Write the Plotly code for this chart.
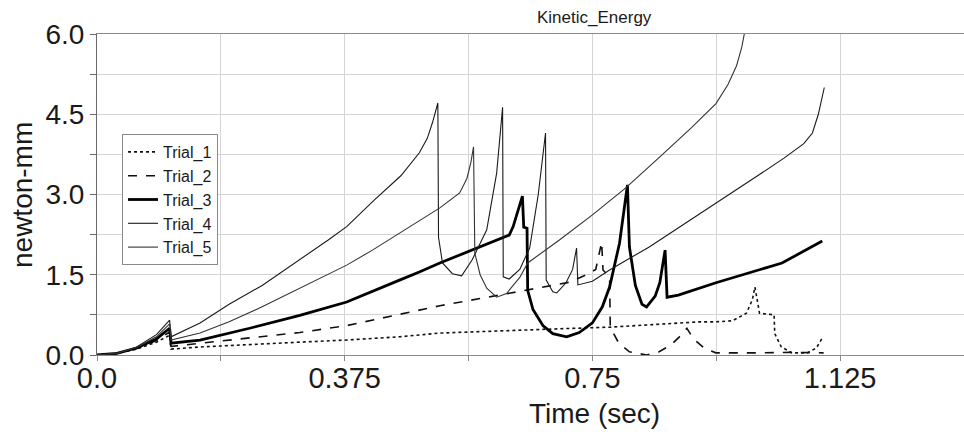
import plotly.graph_objects as go

# ---------------- data ----------------
t1 = [0, 0.03, 0.06, 0.09, 0.110, 0.112, 0.156, 0.231, 0.307, 0.378, 0.458, 0.519, 0.60, 0.70,
      0.776, 0.836, 0.912, 0.937, 0.962, 0.983, 0.992, 0.996, 1.003, 1.025, 1.026, 1.036,
      1.052, 1.075, 1.089, 1.098]
v1 = [0, 0.03, 0.11, 0.24, 0.37, 0.11, 0.15, 0.20, 0.24, 0.28, 0.34, 0.41, 0.45, 0.49,
      0.52, 0.56, 0.62, 0.62, 0.64, 0.78, 1.03, 1.27, 0.78, 0.75, 0.40, 0.15,
      0.04, 0.04, 0.13, 0.32]

t2 = [0, 0.03, 0.06, 0.09, 0.110, 0.112, 0.156, 0.231, 0.307, 0.378, 0.458, 0.519, 0.60, 0.64,
      0.715, 0.741, 0.755, 0.764, 0.766, 0.776, 0.777, 0.79, 0.806, 0.832, 0.851, 0.87,
      0.885, 0.893, 0.903, 0.92, 0.937, 1.0, 1.05, 1.10]
v2 = [0, 0.03, 0.12, 0.27, 0.43, 0.16, 0.22, 0.32, 0.42, 0.55, 0.76, 0.92, 1.10, 1.19,
      1.36, 1.50, 1.60, 2.11, 1.59, 1.46, 0.52, 0.22, 0.06, 0.0, 0.06, 0.20,
      0.38, 0.50, 0.30, 0.12, 0.04, 0.04, 0.05, 0.04]

t3 = [0, 0.03, 0.06, 0.09, 0.110, 0.112, 0.156, 0.231, 0.307, 0.378, 0.458, 0.488, 0.519, 0.624,
      0.630, 0.638, 0.644, 0.646, 0.651, 0.652, 0.66, 0.675, 0.69, 0.711, 0.73, 0.750,
      0.765, 0.776, 0.791, 0.803, 0.806, 0.815, 0.825, 0.832, 0.845, 0.852, 0.860, 0.863,
      0.88, 0.937, 1.037, 1.098]
v3 = [0, 0.03, 0.13, 0.30, 0.50, 0.22, 0.28, 0.50, 0.74, 0.99, 1.40, 1.55, 1.72, 2.24,
      2.40, 2.70, 2.97, 2.39, 2.37, 1.21, 0.85, 0.55, 0.40, 0.34, 0.42, 0.60,
      0.90, 1.27, 2.09, 3.18, 2.02, 1.30, 0.95, 0.90, 1.10, 1.35, 1.96, 1.08,
      1.12, 1.35, 1.72, 2.13]

t4 = [0, 0.03, 0.06, 0.09, 0.110, 0.112, 0.156, 0.20, 0.25, 0.30, 0.35, 0.378, 0.42, 0.46,
      0.488, 0.50, 0.508, 0.516, 0.517, 0.523, 0.538, 0.552, 0.568, 0.590, 0.605, 0.614,
      0.615, 0.624, 0.64, 0.655, 0.668, 0.679, 0.680, 0.69, 0.696, 0.71, 0.72, 0.726,
      0.728, 0.75, 0.776, 0.836, 0.882, 0.937, 1.0, 1.04, 1.07, 1.083, 1.092, 1.101]
v4 = [0, 0.03, 0.15, 0.38, 0.65, 0.34, 0.60, 0.95, 1.30, 1.72, 2.15, 2.40, 2.90, 3.35,
      3.78, 4.05, 4.35, 4.71, 2.20, 1.72, 1.52, 1.48, 1.78, 2.34, 3.40, 4.63,
      1.46, 1.42, 1.60, 2.00, 3.00, 4.15, 1.40, 1.18, 1.16, 1.35, 1.60, 2.00,
      1.31, 1.38, 1.59, 2.02, 2.39, 2.84, 3.35, 3.68, 3.95, 4.15, 4.50, 5.00]

t5 = [0, 0.03, 0.06, 0.09, 0.110, 0.112, 0.156, 0.20, 0.25, 0.30, 0.35, 0.378, 0.417, 0.458,
      0.488, 0.519, 0.549, 0.56, 0.566, 0.570, 0.572, 0.58, 0.59, 0.605, 0.62, 0.64, 0.652,
      0.70, 0.75, 0.80, 0.85, 0.90, 0.937, 0.955, 0.968, 0.976, 0.983]
v5 = [0, 0.03, 0.14, 0.34, 0.58, 0.28, 0.41, 0.62, 0.90, 1.20, 1.50, 1.68, 1.96, 2.28,
      2.52, 2.75, 3.03, 3.30, 3.60, 3.89, 1.90, 1.50, 1.25, 1.08, 1.15, 1.45, 1.72,
      2.15, 2.62, 3.12, 3.68, 4.25, 4.70, 5.05, 5.40, 5.75, 6.20]

names = ["Trial_1", "Trial_2", "Trial_3", "Trial_4", "Trial_5"]

x_tickvals = [0, 0.1875, 0.375, 0.5625, 0.75, 0.9375, 1.125, 1.3125]
x_ticktext = ["0.0", "", "0.375", "", "0.75", "", "1.125", ""]
y_tickvals = [0, 0.75, 1.5, 2.25, 3.0, 3.75, 4.5, 5.25, 6.0]
y_ticktext = ["0.0", "", "1.5", "", "3.0", "", "4.5", "", "6.0"]

# ---------------- figure ----------------
FONT = "Liberation Sans, Arial, sans-serif"
styles = [
    dict(color="#111111", width=1.6, dash="dot"),
    dict(color="#111111", width=1.6, dash="dash"),
    dict(color="#000000", width=2.8, dash="solid"),
    dict(color="#1a1a1a", width=1.1, dash="solid"),
    dict(color="#333333", width=1.1, dash="solid"),
]
series = [(t1, v1), (t2, v2), (t3, v3), (t4, v4), (t5, v5)]

fig = go.Figure()
for (tt, vv), nm, st in zip(series, names, styles):
    fig.add_trace(go.Scatter(x=tt, y=vv, mode="lines", name=nm, line=st))

W, H = 964, 432
L, R, T, B = 97, 0, 34, 77
pw, ph = W - L - R, H - T - B

def px2paper_x(px):
    return (px - L) / pw

def px2paper_y(py):
    return (H - B - py) / ph

fig.update_layout(
    width=W, height=H,
    margin=dict(l=L, r=R, t=T, b=B),
    paper_bgcolor="white", plot_bgcolor="white",
    font=dict(family=FONT, color="#1a1a1a"),
    showlegend=True,
    legend=dict(
        x=px2paper_x(122), y=px2paper_y(134), xanchor="left", yanchor="top",
        bgcolor="white", bordercolor="#8a8a8a", borderwidth=1,
        font=dict(size=16, family=FONT, color="#1a1a1a"),
        itemwidth=30, tracegroupgap=0,
    ),
    xaxis=dict(
        range=[0, 1.3125], tickmode="array", tickvals=x_tickvals, ticktext=x_ticktext,
        showgrid=True, gridcolor="#d4d4d4", gridwidth=1,
        showline=True, linecolor="#8a8a8a", linewidth=1, mirror=True,
        ticks="outside", ticklen=5, tickcolor="#8a8a8a",
        ticklabelstandoff=-8,
        tickfont=dict(size=29, family=FONT, color="#1a1a1a"),
        zeroline=False, fixedrange=True,
    ),
    yaxis=dict(
        range=[0, 6.0], tickmode="array", tickvals=y_tickvals, ticktext=y_ticktext,
        showgrid=True, gridcolor="#d4d4d4", gridwidth=1,
        showline=True, linecolor="#6a6a6a", linewidth=1,
        ticks="outside", ticklen=6, tickcolor="#6a6a6a",
        tickfont=dict(size=28, family=FONT, color="#1a1a1a"),
        zeroline=False, fixedrange=True,
    ),
    annotations=[
        dict(text="Kinetic_Energy", xref="paper", yref="paper",
             x=px2paper_x(594), y=px2paper_y(17), xanchor="center", yanchor="middle",
             showarrow=False, font=dict(size=17, family=FONT, color="#1a1a1a")),
        dict(text="Time (sec)", xref="paper", yref="paper",
             x=px2paper_x(594), y=px2paper_y(413), xanchor="center", yanchor="middle",
             showarrow=False, font=dict(size=28, family=FONT, color="#1a1a1a")),
        dict(text="newton-mm", xref="paper", yref="paper", textangle=-90,
             x=px2paper_x(23), y=px2paper_y(195), xanchor="center", yanchor="middle",
             showarrow=False, font=dict(size=28, family=FONT, color="#1a1a1a")),
    ],
)

fig.write_html("out.html")
